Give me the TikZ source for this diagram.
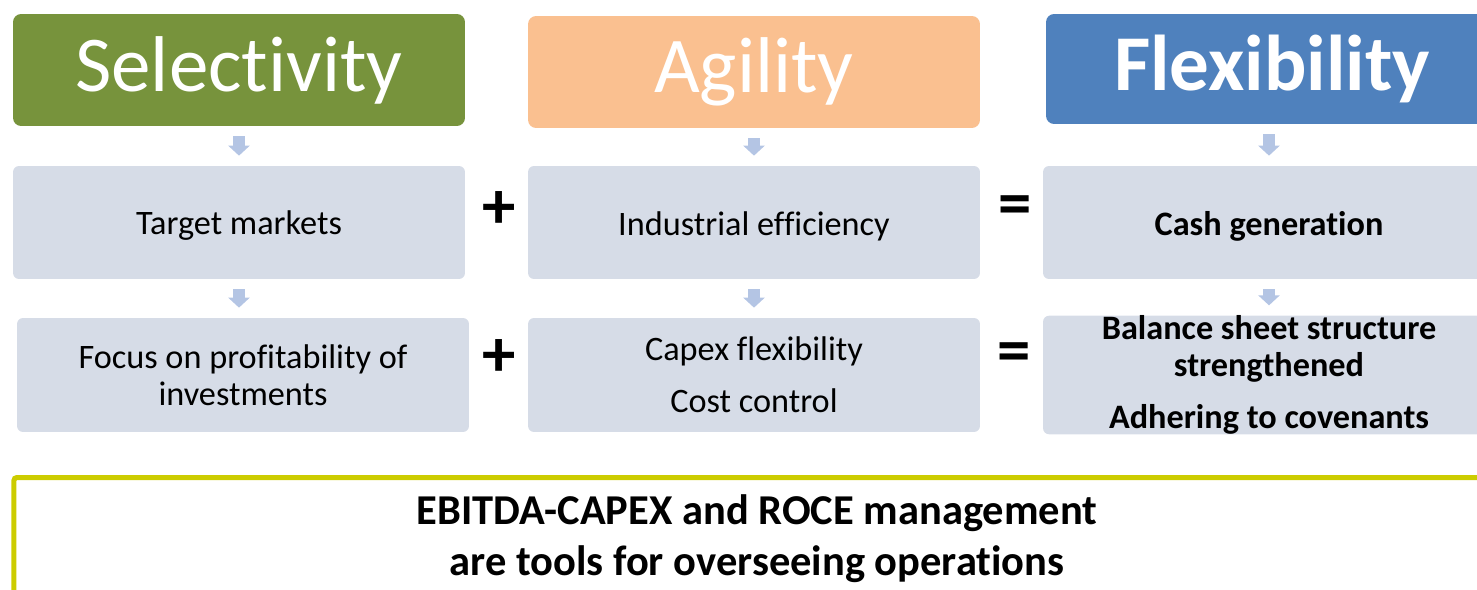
\documentclass[tikz,border=0pt]{standalone}
\usepackage{fontspec}
\setmainfont{Carlito}[Ligatures={NoCommon,NoContextual,NoRequired}]
\usepackage{xcolor}
\usetikzlibrary{arrows.meta,positioning}

\definecolor{selgreen}{RGB}{119,147,60}
\definecolor{agipeach}{RGB}{250,192,144}
\definecolor{flexblue}{RGB}{79,129,189}
\definecolor{cellblue}{RGB}{214,220,231}
\definecolor{arrblue}{RGB}{180,197,228}
\definecolor{noteyellow}{RGB}{204,204,0}

\begin{document}
\begin{tikzpicture}[
  x=0.02cm, y=-0.02cm,
  head/.style={rounded corners=0.16cm, minimum width=9.04cm, minimum height=2.24cm, inner sep=0pt, text=white, font=\fontsize{45}{50}\selectfont},
  cell/.style={fill=cellblue, rounded corners=0.12cm, minimum width=9.04cm, minimum height=2.26cm, inner sep=0pt, align=center, font=\fontsize{19.5}{21}\selectfont},
  sign/.style={inner sep=0pt, font=\bfseries\fontsize{38}{40}\selectfont},
  arr/.style={draw=arrblue, line width=0.24cm, -{Triangle[width=0.42cm,length=0.2cm]}, shorten <=0.2cm, shorten >=0.2cm},
  note/.style={draw=noteyellow, line width=0.1cm, rounded corners=0.06cm, minimum width=29.73cm, minimum height=2.46cm, inner sep=0pt, align=center, font=\bfseries\fontsize{24.2}{29}\selectfont}
]
\useasboundingbox (0,0) rectangle (1477,590);
\clip (0,0) rectangle (1477,590);

% headings
\node[head, fill=selgreen] (sel) at (239,70) {Selectivity};
\node[head, fill=agipeach] (agi) at (754,72) {Agility};
\node[head, fill=flexblue, minimum height=2.2cm, font=\bfseries\fontsize{45}{50}\selectfont] (flex) at (1272,69) {Flexibility};

% middle row
\node[cell] (tm) at (239,222.5) {\raisebox{-2pt}[\height][\depth]{Target markets}};
\node[cell] (ie) at (754,222.5) {\raisebox{-2pt}[\height][\depth]{Industrial efficiency}};
\node[cell, font=\bfseries\fontsize{19.5}{21}\selectfont] (cg) at (1269,222.5) {\raisebox{-2pt}[\height][\depth]{Cash generation}};

% bottom row
\node[cell, minimum height=2.28cm] (foc) at (243,375) {Focus on profitability of\\investments};
\node[cell, minimum height=2.28cm] (cap) at (754,375) {Capex flexibility\\[8.5pt]Cost control};
\node[cell, minimum height=2.28cm, font=\bfseries\fontsize{19.5}{21}\selectfont] (bal) at (1269,375) {Balance sheet structure\\strengthened\\[8.5pt]Adhering to covenants};

% operators
\node[sign] (plusa) at (499,210) {+};
\node[sign] (eqa) at (1015,211) {=};
\node[sign] (plusb) at (499,358) {+};
\node[sign] (eqb) at (1014,358) {=};

\draw[arr] (sel.south) -- (sel.south |- tm.north);
\draw[arr] (agi.south) -- (ie.north);
\draw[arr] (flex.south -| cg.north) -- (cg.north);
\draw[arr] (tm.south) -- (tm.south |- foc.north);
\draw[arr] (ie.south) -- (cap.north);
\draw[arr] (cg.south) -- (bal.north);

% summary
\node[note] (ebit) at (757,539) {EBITDA-CAPEX and ROCE management\\are tools for overseeing operations};
\end{tikzpicture}
\end{document}
